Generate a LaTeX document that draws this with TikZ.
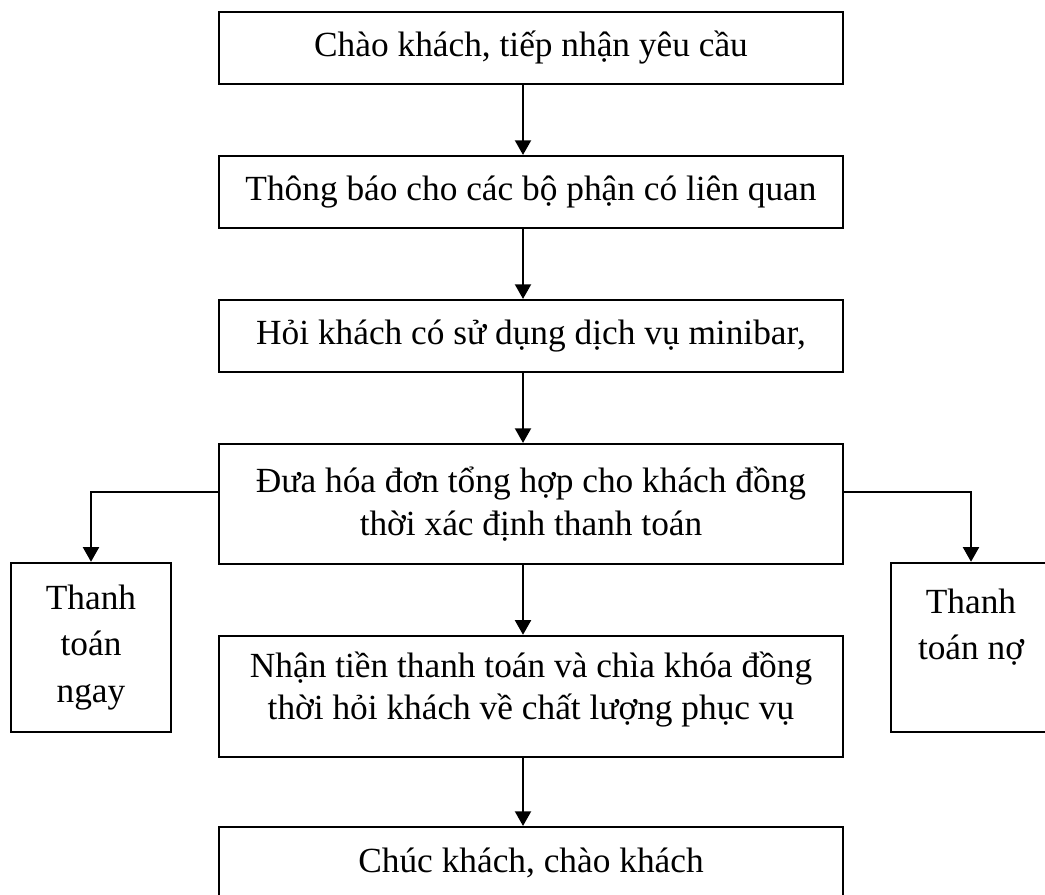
\documentclass[tikz,border=0pt]{standalone}
\usepackage{fontspec}
\setmainfont{Liberation Serif}
\usetikzlibrary{arrows.meta}

\begin{document}
\begin{tikzpicture}[x=0.75pt, y=-0.75pt, >={Triangle[width=12pt, length=11pt]},
    line width=1.6pt, font=\fontsize{26.5}{32}\selectfont,
    box/.style={draw, minimum width=468pt, minimum height=54pt, align=center, inner sep=0pt},
    sidebox/.style={draw, minimum width=120pt, minimum height=127pt, align=center,
      inner sep=0pt, font=\fontsize{26.5}{35}\selectfont}]

    % 1. Khung trang
    \useasboundingbox (0,0) rectangle (1045,894);

    % 2. Các bước chính
    \node[box] (greet) at (531,48) {Chào khách, tiếp nhận yêu cầu};
    \node[box] (inform) at (531,192) {Thông báo cho các bộ phận có liên quan};
    \node[box] (minibar) at (531,336) {Hỏi khách có sử dụng dịch vụ minibar,};
    \node[box, minimum height=90pt] (bill) at (531,504)
          {Đưa hóa đơn tổng hợp cho khách đồng\\thời xác định thanh toán};
    \node[box, minimum height=91pt, text depth=16pt] (pay) at (531,696.5)
          {Nhận tiền thanh toán và chìa khóa đồng\\thời hỏi khách về chất lượng phục vụ};
    \node[box] (bye) at (531,863) {Chúc khách, chào khách};

    % 3. Hai cách thanh toán
    \node[sidebox] (now) at (91,647.5) {Thanh\\toán\\ngay};
    \node[sidebox] (debt) at (971,647.5) {Thanh\\toán nợ\\\mbox{}};

    % 4. Mũi tên
    \foreach \a/\b in {greet/inform, inform/minibar, minibar/bill, bill/pay, pay/bye}{
      \draw[->] ([xshift=-6pt]\a.south) -- ([xshift=-6pt]\b.north);
    }
    \draw[->] ([yshift=9pt]bill.west) -| (now.north);
    \draw[->] ([yshift=9pt]bill.east) -| (debt.north);

  \end{tikzpicture}
\end{document}
